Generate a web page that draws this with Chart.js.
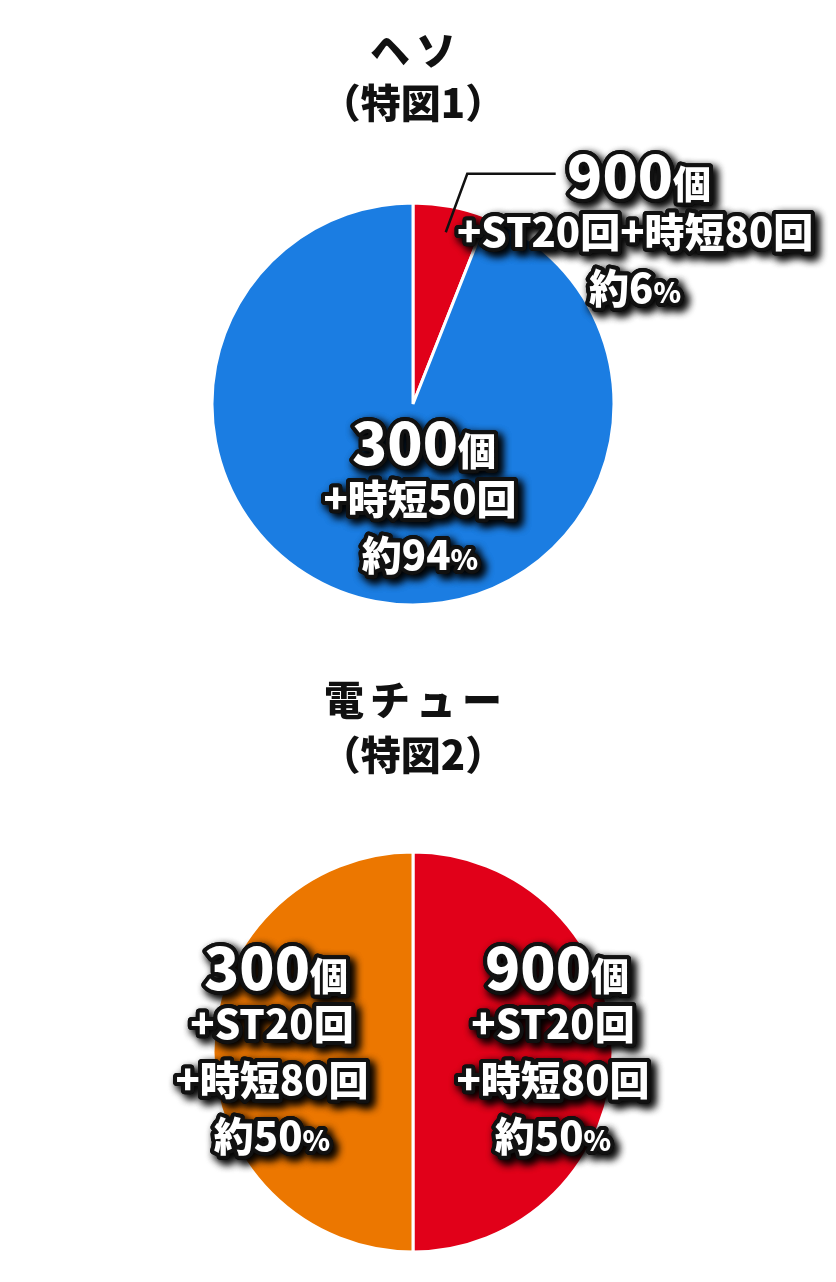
<!DOCTYPE html>
<html lang="ja">
<head>
<meta charset="utf-8">
<script src="https://cdn.jsdelivr.net/npm/chart.js@4.4.1/dist/chart.umd.min.js"></script>
<style>
  html, body { margin: 0; padding: 0; background: #fff; }
  .wrap { position: relative; width: 836px; }
  .wrap canvas { display: block; }
</style>
</head>
<body>
<div class="wrap" style="height:640px"><canvas id="hesoChart"></canvas></div>
<div class="wrap" style="height:642px"><canvas id="denchuChart"></canvas></div>
<script>
// ヘソ（特図1）
const hesoTitle = ['ヘソ', '（特図1）'];
const hesoLabels = [['900個', '+ST20回+時短80回'], ['300個', '+時短50回']];
const hesoValues = [6, 94];

// 電チュー（特図2）
const denchuTitle = ['電チュー', '（特図2）'];
const denchuLabels = [['900個', '+ST20回', '+時短80回'], ['300個', '+ST20回', '+時短80回']];
const denchuValues = [50, 50];

const RED = '#e10019';
const BLUE = '#1b7de2';
const ORANGE = '#ec7700';
const FONT = '"Noto Sans CJK JP", "Noto Sans", sans-serif';
const LINE_GAP = 56;

// split a label line into runs: big digits / small 個 on the first line, small % on the last
function labelRuns(line, first) {
    const runs = [];
    for (const ch of line) {
        let size;
        if (first) size = /[0-9]/.test(ch) ? 58 : 38;
        else size = ch === '%' ? 28 : 40;
        const last = runs[runs.length - 1];
        if (last && last.size === size) last.text += ch;
        else runs.push({ text: ch, size: size });
    }
    return runs;
}

function drawOutlined(ctx, runs, cx, baseY) {
    let total = 0;
    runs.forEach(r => {
        ctx.font = `900 ${r.size}px ${FONT}`;
        r.w = ctx.measureText(r.text).width;
        total += r.w;
    });

    // dark halo + drop shadow, drawn twice so it stays dense
    ctx.save();
    ctx.textAlign = 'left';
    ctx.textBaseline = 'alphabetic';
    ctx.shadowColor = 'rgba(0,0,0,0.9)';
    ctx.shadowBlur = 8;
    ctx.shadowOffsetX = 4;
    ctx.shadowOffsetY = 4;
    ctx.strokeStyle = '#111';
    ctx.lineWidth = 8;
    ctx.lineJoin = 'round';
    for (let pass = 0; pass < 2; pass++) {
        let x = cx - total / 2;
        runs.forEach(r => {
            ctx.font = `900 ${r.size}px ${FONT}`;
            ctx.strokeText(r.text, x, baseY);
            x += r.w;
        });
    }
    ctx.restore();

    ctx.save();
    ctx.textAlign = 'left';
    ctx.textBaseline = 'alphabetic';
    ctx.fillStyle = '#fff';
    let x = cx - total / 2;
    runs.forEach(r => {
        ctx.font = `900 ${r.size}px ${FONT}`;
        ctx.fillText(r.text, x, baseY);
        x += r.w;
    });
    ctx.restore();
}

// titles + slice labels, placement given in radius units from the pie centre
function makeLabelPlugin(titleLines, titleY, labels, place) {
    return {
        id: 'pieText',
        afterDraw(chart) {
            const ctx = chart.ctx;
            const meta = chart.getDatasetMeta(0);
            const values = chart.data.datasets[0].data;
            const cx = (chart.chartArea.left + chart.chartArea.right) / 2;

            // title
            ctx.save();
            ctx.fillStyle = '#111';
            ctx.textAlign = 'center';
            ctx.textBaseline = 'middle';
            ctx.font = `900 40px ${FONT}`;
            titleLines.forEach((t, i) => {
                ctx.letterSpacing = i === 0 ? '6px' : '0px';
                ctx.fillText(t, cx + (i === 0 ? 3 : 0), titleY[i]);
            });
            ctx.letterSpacing = '0px';
            ctx.restore();

            meta.data.forEach((arc, i) => {
                const p = arc.getProps(['x', 'y', 'outerRadius', 'startAngle', 'endAngle'], true);
                const r = p.outerRadius;
                const pl = place[i];

                if (pl.leader) {
                    const mid = (p.startAngle + p.endAngle) / 2;
                    ctx.save();
                    ctx.strokeStyle = '#111';
                    ctx.lineWidth = 2.5;
                    ctx.beginPath();
                    ctx.moveTo(p.x + Math.cos(mid) * r * 0.87, p.y + Math.sin(mid) * r * 0.87);
                    ctx.lineTo(p.x + pl.leader[0] * r, p.y + pl.leader[1] * r);
                    ctx.lineTo(p.x + pl.leader[2] * r, p.y + pl.leader[1] * r);
                    ctx.stroke();
                    ctx.restore();
                }

                const lines = labels[i].concat(['約' + values[i] + '%']);
                const midY = p.y + pl.dy * r;
                const lx = p.x + pl.dx * r;
                lines.forEach((line, k) => {
                    const first = k === 0;
                    const centerY = midY + (k - (lines.length - 1) / 2) * LINE_GAP;
                    const baseY = centerY + (first ? 22 : 15);
                    drawOutlined(ctx, labelRuns(line, first), lx + (first ? 4 : 0), baseY);
                });
            });
        }
    };
}

function pieConfig(labels, values, colors, padding, plugin) {
    return {
        type: 'pie',
        data: {
            labels: labels.map(l => l.join(' ')),
            datasets: [{
                data: values,
                backgroundColor: colors,
                borderColor: '#ffffff',
                borderWidth: 3
            }]
        },
        options: {
            responsive: true,
            maintainAspectRatio: false,
            animation: false,
            events: [],
            layout: { padding: padding },
            plugins: {
                legend: { display: false },
                tooltip: { enabled: false },
                title: { display: false }
            }
        },
        plugins: [plugin]
    };
}

new Chart(document.getElementById('hesoChart'), pieConfig(
    hesoLabels, hesoValues, [RED, BLUE],
    { top: 201.5, bottom: 33.5, left: 210.5, right: 220.5 },
    makeLabelPlugin(hesoTitle, [50, 103], hesoLabels, [
        { dx: 1.105, dy: -0.856, leader: [0.27, -1.145, 0.71] },
        { dx: 0.035, dy: 0.473 }
    ])
));

new Chart(document.getElementById('denchuChart'), pieConfig(
    denchuLabels, denchuValues, [RED, ORANGE],
    { top: 210.5, bottom: 28.5, left: 211.5, right: 221.5 },
    makeLabelPlugin(denchuTitle, [60, 115], denchuLabels, [
        { dx: 0.70, dy: 0.0 },
        { dx: -0.705, dy: 0.0 }
    ])
));
</script>
</body>
</html>
